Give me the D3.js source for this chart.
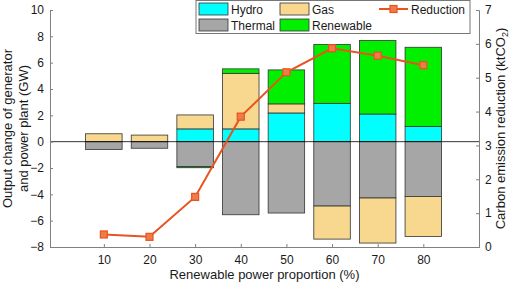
<!DOCTYPE html>
<html>
<head>
<meta charset="utf-8">
<script src="https://cdn.jsdelivr.net/npm/d3@7"></script>
<style>
  body { margin: 0; background: #fff; }
  svg { font-family: "Liberation Sans", Arial, sans-serif; }
</style>
</head>
<body>
<svg id="chart" width="512" height="283"></svg>
<script>
// data
const categories = [10, 20, 30, 40, 50, 60, 70, 80];
const hydro = [0, 0, 0.97, 0.97, 2.18, 2.91, 2.1, 1.16];
const thermal = [-0.6, -0.5, -1.9, -5.55, -5.42, -4.89, -4.28, -4.16];
const gas = [0.6, 0.5, 1.06, 4.22, 0.69, -2.51, -3.42, -3.04];
const renewable = [0, 0, -0.08, 0.34, 2.58, 4.47, 5.58, 6.01];
const reduction = [0.37, 0.30, 1.48, 3.85, 5.16, 5.87, 5.65, 5.37];
const leftTicks = [-8, -6, -4, -2, 0, 2, 4, 6, 8, 10];
const rightTicks = [0, 1, 2, 3, 4, 5, 6, 7];

const colors = { hydro: '#00ffff', thermal: '#a6a6a6', gas: '#f8d78e', renewable: '#00f000' };
const lineColor = '#e8531f';
const axisColor = '#808080';

const margin = { top: 10, right: 33, bottom: 36, left: 50 };
const width = 512, height = 283;

const svg = d3.select('#chart');

// build rows for the stack
const rows = categories.map((c, i) => ({
    cat: c, hydro: hydro[i], thermal: thermal[i], gas: gas[i], renewable: renewable[i]
}));
const keys = ['hydro', 'thermal', 'gas', 'renewable'];
const series = d3.stack().keys(keys).offset(d3.stackOffsetDiverging)(rows);

const x = d3.scaleLinear()
    .domain([-0.18, 9.22])
    .range([margin.left, width - margin.right]);
const y = d3.scaleLinear()
    .domain([-8, 10])
    .range([height - margin.bottom, margin.top]);
const y2 = d3.scaleLinear()
    .domain([0, 7])
    .range([height - margin.bottom, margin.top]);

const step = x(2) - x(1);
const barW = step * 0.8;

// bars
svg.append('g')
    .selectAll('g')
    .data(series)
    .join('g')
    .attr('fill', d => colors[d.key])
    .selectAll('rect')
    .data(d => d)
    .join('rect')
    .attr('x', (d, i) => x(i + 1) - barW / 2)
    .attr('y', d => y(Math.max(d[0], d[1])))
    .attr('height', d => Math.abs(y(d[0]) - y(d[1])))
    .attr('width', barW)
    .attr('stroke', '#333')
    .attr('stroke-width', 0.8);

// zero line
svg.append('line')
    .attr('x1', margin.left).attr('x2', width - margin.right)
    .attr('y1', y(0)).attr('y2', y(0))
    .attr('stroke', '#000').attr('stroke-width', 0.8);

// left axis
const gl = svg.append('g')
    .attr('transform', `translate(${margin.left},0)`)
    .call(d3.axisLeft(y).tickValues(leftTicks).tickSize(-3).tickPadding(6));

// right axis
const gr = svg.append('g')
    .attr('transform', `translate(${width - margin.right},0)`)
    .call(d3.axisRight(y2).tickValues(rightTicks).tickFormat(d3.format('d')).tickSize(-3).tickPadding(6));

// bottom axis
const gb = svg.append('g')
    .attr('transform', `translate(0,${height - margin.bottom})`)
    .call(d3.axisBottom(x).tickValues(d3.range(1, 9)).tickFormat((d, i) => categories[i])
        .tickSize(-3).tickPadding(8));

[gl, gr, gb].forEach(g => {
    g.select('.domain').attr('stroke', axisColor).attr('stroke-width', 1);
    g.selectAll('.tick line').attr('stroke', axisColor);
    g.selectAll('.tick text').attr('fill', '#1a1a1a').style('font-size', '12px');
});

// reduction line
const line = d3.line()
    .x((d, i) => x(i + 1))
    .y(d => y2(d));

svg.append('path')
    .datum(reduction)
    .attr('fill', 'none')
    .attr('stroke', lineColor)
    .attr('stroke-width', 2)
    .attr('d', line);

svg.append('g')
    .selectAll('rect')
    .data(reduction)
    .join('rect')
    .attr('x', (d, i) => x(i + 1) - 3.5)
    .attr('y', d => y2(d) - 3.5)
    .attr('width', 7)
    .attr('height', 7)
    .attr('fill', '#ef7a4a')
    .attr('stroke', lineColor)
    .attr('stroke-width', 1.2);

// axis titles
const midY = (margin.top + height - margin.bottom) / 2;
svg.append('text')
    .attr('transform', `translate(12,${midY}) rotate(-90)`)
    .attr('text-anchor', 'middle')
    .style('font-size', '13px')
    .attr('fill', '#1a1a1a')
    .text('Output change of generator');
svg.append('text')
    .attr('transform', `translate(28,${midY}) rotate(-90)`)
    .attr('text-anchor', 'middle')
    .style('font-size', '13px')
    .attr('fill', '#1a1a1a')
    .text('and power plant (GW)');

const rt = svg.append('text')
    .attr('transform', `translate(505,${midY}) rotate(-90)`)
    .attr('text-anchor', 'middle')
    .style('font-size', '13px')
    .attr('fill', '#1a1a1a');
rt.append('tspan').text('Carbon emission reduction (ktCO');
rt.append('tspan').attr('dy', 3).style('font-size', '9px').text('2');
rt.append('tspan').attr('dy', -3).text(')');

svg.append('text')
    .attr('x', (margin.left + width - margin.right) / 2)
    .attr('y', 279)
    .attr('text-anchor', 'middle')
    .style('font-size', '13px')
    .attr('fill', '#1a1a1a')
    .text('Renewable power proportion (%)');

// legend
const legend = svg.append('g');
legend.append('rect')
    .attr('x', 196).attr('y', 0.5).attr('width', 274).attr('height', 33)
    .attr('fill', '#fff').attr('stroke', '#777').attr('stroke-width', 1);

const legendItems = [
    { key: 'hydro', label: 'Hydro', x: 199, y: 3 },
    { key: 'gas', label: 'Gas', x: 280, y: 3 },
    { key: 'thermal', label: 'Thermal', x: 199, y: 19 },
    { key: 'renewable', label: 'Renewable', x: 280, y: 19 }
];
legendItems.forEach(it => {
    legend.append('rect')
        .attr('x', it.x).attr('y', it.y).attr('width', 29).attr('height', 12)
        .attr('fill', colors[it.key]).attr('stroke', '#333').attr('stroke-width', 0.8);
    legend.append('text')
        .attr('x', it.x + 32).attr('y', it.y + 10.5)
        .style('font-size', '12px').attr('fill', '#1a1a1a')
        .text(it.label);
});
legend.append('line')
    .attr('x1', 379).attr('x2', 408).attr('y1', 9).attr('y2', 9)
    .attr('stroke', lineColor).attr('stroke-width', 2);
legend.append('rect')
    .attr('x', 390).attr('y', 5.5).attr('width', 7).attr('height', 7)
    .attr('fill', '#ef7a4a').attr('stroke', lineColor).attr('stroke-width', 1.2);
legend.append('text')
    .attr('x', 411).attr('y', 13.5)
    .style('font-size', '12px').attr('fill', '#1a1a1a')
    .text('Reduction');
</script>
</body>
</html>
